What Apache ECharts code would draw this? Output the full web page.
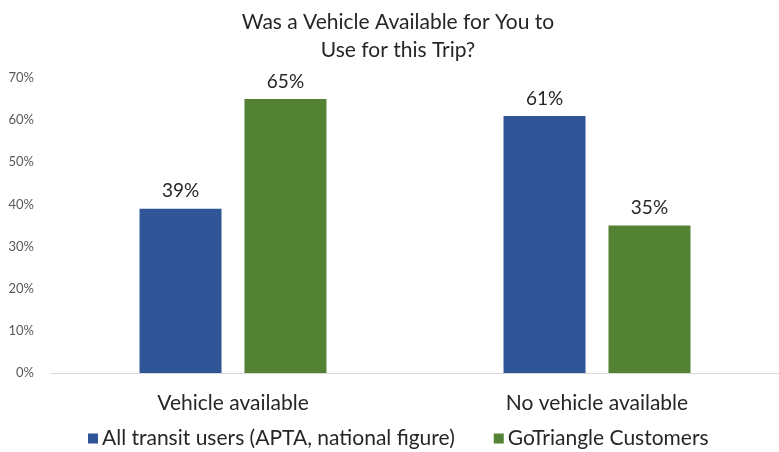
<!DOCTYPE html>
<html>
<head>
<meta charset="utf-8">
<script src="https://cdn.jsdelivr.net/npm/echarts@6/dist/echarts.min.js"></script>
<style>
  html, body { margin: 0; padding: 0; background: #fff; }
  #main { width: 779px; height: 452px; }
</style>
</head>
<body>
<div id="main"></div>
<script>
// data
var categories = ['Vehicle available', 'No vehicle available'];
var seriesNames = ['All transit users (APTA, national figure)', 'GoTriangle Customers'];
var aptaValues = [39, 61];
var goTriangleValues = [65, 35];

var FONT = 'Lato';
var chart = echarts.init(document.getElementById('main'));

function labelStyle() {
  return {
    show: true,
    position: 'top',
    distance: 8,
    formatter: '{c}%',
    fontFamily: FONT,
    fontSize: 19,
    color: '#262626'
  };
}

var option = {
  animation: false,
  backgroundColor: '#fff',
  title: {
    text: 'Was a Vehicle Available for You to\nUse for this Trip?',
    left: 393,
    textAlign: 'center',
    top: 3,
    textStyle: {
      fontFamily: FONT,
      fontWeight: 'normal',
      fontSize: 21,
      lineHeight: 28,
      color: '#262626'
    }
  },
  legend: {
    bottom: -2,
    left: 83,
    itemWidth: 10,
    itemHeight: 10,
    itemGap: 39,
    icon: 'rect',
    textStyle: { fontFamily: FONT, fontSize: 21, color: '#262626', padding: [0, 0, 0, -1] },
    data: seriesNames
  },
  grid: { left: 51, top: 78, right: 0, height: 295 },
  xAxis: {
    type: 'category',
    data: categories,
    axisLine: { lineStyle: { color: '#d9d9d9', width: 1 } },
    axisTick: { show: false },
    axisLabel: { margin: 20, fontFamily: FONT, fontSize: 21, color: '#262626' }
  },
  yAxis: {
    type: 'value',
    min: 0,
    max: 70,
    interval: 10,
    axisLine: { show: false },
    axisTick: { show: false },
    splitLine: { show: false },
    axisLabel: { formatter: '{value}%', margin: 17, fontFamily: FONT, fontSize: 13, color: '#595959' }
  },
  series: [
    {
      name: seriesNames[0],
      type: 'bar',
      data: aptaValues,
      barWidth: 82,
      barGap: '28%',
      itemStyle: { color: '#2F5597' },
      label: labelStyle()
    },
    {
      name: seriesNames[1],
      type: 'bar',
      data: goTriangleValues,
      barWidth: 82,
      itemStyle: { color: '#548235' },
      label: labelStyle()
    }
  ]
};

chart.setOption(option);
</script>
</body>
</html>
